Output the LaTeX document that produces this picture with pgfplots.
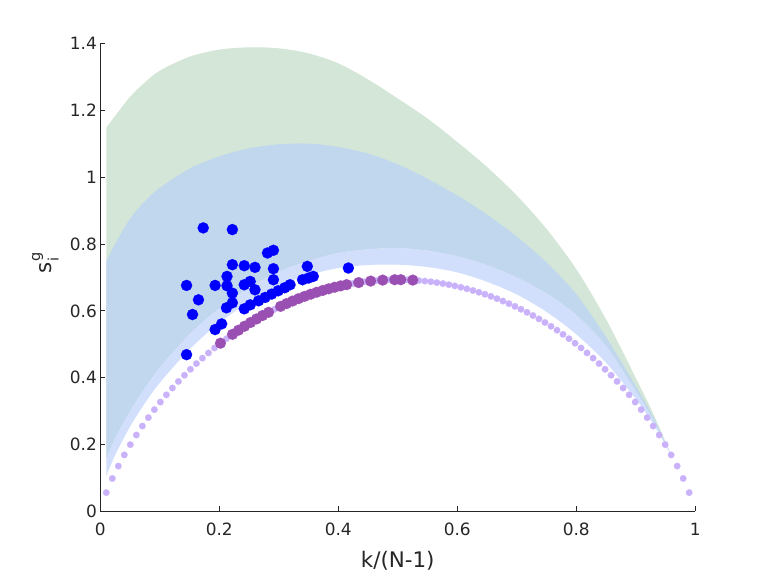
\documentclass[border=0pt]{standalone}
\usepackage{fontspec}
\setmainfont{DejaVu Sans}
\usepackage{pgfplots}
\pgfplotsset{compat=1.18}
\usepgfplotslibrary{fillbetween}
\definecolor{axc}{RGB}{38,38,38}
\definecolor{grn}{RGB}{211,230,215}
\definecolor{stl}{RGB}{193,215,238}
\definecolor{lbl}{RGB}{209,223,252}
\definecolor{lpur}{RGB}{201,178,250}
\definecolor{dpur}{RGB}{154,80,178}
\definecolor{bdot}{RGB}{0,0,255}

\begin{document}
\begin{tikzpicture}
\begin{axis}[
  at={(100.3bp,64.5bp)}, anchor=south west,
  scale only axis, width=594.9bp, height=468.2bp,
  xmin=0, xmax=1, ymin=0, ymax=1.4,
  axis x line*=bottom, axis y line*=left,
  axis line style={draw=axc, line width=0.75bp},
  tick align=inside, major tick length=5bp,
  tick style={draw=axc, line width=0.75bp},
  xtick={0,0.2,0.4,0.6,0.8,1},
  ytick={0,0.2,0.4,0.6,0.8,1,1.2,1.4},
  xticklabels={0,0.2,0.4,0.6,0.8,1},
  yticklabels={0,0.2,0.4,0.6,0.8,1,1.2,1.4},
  /pgf/number format/assume math mode=true,
  xticklabel style={font=\fontsize{17}{18}\selectfont, text=axc, yshift=-8bp},
  yticklabel style={font=\fontsize{17}{18}\selectfont, text=axc},
  xlabel={k/(N-1)},
  xlabel style={font=\fontsize{21.5}{23}\selectfont, text=axc, at={(axis description cs:0.5,0)}, anchor=center, yshift=-49.5bp},
  ylabel={s\makebox[0pt][l]{\raisebox{-0.32em}{\fontsize{14.5}{15}\selectfont i}}\raisebox{0.55em}{\fontsize{14.5}{15}\selectfont g}},
  ylabel style={font=\fontsize{21.5}{23}\selectfont, text=axc, at={(axis description cs:0,0.531)}, anchor=center, yshift=55bp},
]
% green band upper
\addplot[draw=none, name path=GT, smooth, forget plot] coordinates {
(0.0101,1.148) (0.025,1.183) (0.05,1.240) (0.075,1.283) (0.1,1.318) (0.15,1.360)
(0.2,1.381) (0.25,1.388) (0.3,1.385) (0.35,1.370) (0.4,1.340) (0.45,1.292)
(0.5,1.235) (0.55,1.175) (0.6,1.105) (0.65,1.030) (0.7,0.945) (0.75,0.845)
(0.8,0.725) (0.85,0.575) (0.9,0.400) (0.93,0.290) (0.9596,0.169)};
% blue band upper
\addplot[draw=none, name path=BT, smooth, forget plot] coordinates {
(0.0101,0.748) (0.025,0.800) (0.05,0.875) (0.075,0.928) (0.1,0.968) (0.15,1.025)
(0.2,1.062) (0.25,1.086) (0.3,1.098) (0.35,1.100) (0.4,1.090) (0.45,1.070)
(0.5,1.038) (0.55,0.995) (0.6,0.945) (0.65,0.888) (0.7,0.822) (0.75,0.745)
(0.8,0.650) (0.85,0.522) (0.9,0.375) (0.93,0.280) (0.9596,0.169)};
% light band upper (= green band lower)
\addplot[draw=none, name path=LU, smooth, forget plot] coordinates {
(0.0101,0.159) (0.025,0.219) (0.05,0.300) (0.075,0.369) (0.1,0.430) (0.15,0.530)
(0.2,0.608) (0.25,0.670) (0.3,0.717) (0.35,0.749) (0.4,0.773) (0.45,0.784)
(0.5,0.788) (0.55,0.780) (0.6,0.763) (0.65,0.737) (0.7,0.700) (0.75,0.652)
(0.8,0.588) (0.85,0.495) (0.9,0.360) (0.93,0.272) (0.9596,0.169)};
% light band lower
\addplot[draw=none, name path=LL, smooth, forget plot] coordinates {
(0.0101,0.106) (0.025,0.169) (0.05,0.254) (0.075,0.324) (0.1,0.385) (0.15,0.485)
(0.2,0.564) (0.25,0.627) (0.3,0.675) (0.35,0.707) (0.4,0.728) (0.45,0.737)
(0.5,0.738) (0.55,0.731) (0.6,0.715) (0.65,0.687) (0.7,0.649) (0.75,0.597)
(0.8,0.530) (0.85,0.445) (0.9,0.337) (0.93,0.260) (0.9596,0.169)};

\addplot[grn, draw=none, forget plot] fill between[of=GT and LU];
\addplot[stl, draw=none, forget plot] fill between[of=BT and LU];
\addplot[lbl, draw=none, forget plot] fill between[of=LU and LL];

% light purple dots
\addplot[lpur, only marks, mark=*, mark size=3.3bp, mark options={fill=lpur, draw=lpur, line width=0.1pt}] coordinates {
(0.0101,0.0565) (0.0202,0.0988) (0.0303,0.1358) (0.0404,0.1692) (0.0505,0.2000)
(0.0606,0.2286) (0.0707,0.2555) (0.0808,0.2807) (0.0909,0.3046) (0.1010,0.3273)
(0.1111,0.3488) (0.1212,0.3693) (0.1313,0.3889) (0.1414,0.4075) (0.1515,0.4253)
(0.1616,0.4423) (0.1717,0.4586) (0.1818,0.4741) (0.1919,0.4890) (0.2020,0.5032)
(0.2121,0.5168) (0.2222,0.5297) (0.2323,0.5421) (0.2424,0.5539) (0.2525,0.5651)
(0.2626,0.5758) (0.2727,0.5860) (0.2828,0.5956) (0.2929,0.6048) (0.3030,0.6134)
(0.3131,0.6216) (0.3232,0.6293) (0.3333,0.6365) (0.3434,0.6433) (0.3535,0.6496)
(0.3636,0.6555) (0.3737,0.6609) (0.3838,0.6659) (0.3939,0.6705) (0.4040,0.6746)
(0.4141,0.6783) (0.4242,0.6816) (0.4343,0.6845) (0.4444,0.6870) (0.4545,0.6890)
(0.4646,0.6906) (0.4747,0.6919) (0.4848,0.6927) (0.4949,0.6931) (0.5051,0.6931)
(0.5152,0.6927) (0.5253,0.6919) (0.5354,0.6906) (0.5455,0.6890) (0.5556,0.6870)
(0.5657,0.6845) (0.5758,0.6816) (0.5859,0.6783) (0.5960,0.6746) (0.6061,0.6705)
(0.6162,0.6659) (0.6263,0.6609) (0.6364,0.6555) (0.6465,0.6496) (0.6566,0.6433)
(0.6667,0.6365) (0.6768,0.6293) (0.6869,0.6216) (0.6970,0.6134) (0.7071,0.6048)
(0.7172,0.5956) (0.7273,0.5860) (0.7374,0.5758) (0.7475,0.5651) (0.7576,0.5539)
(0.7677,0.5421) (0.7778,0.5297) (0.7879,0.5168) (0.7980,0.5032) (0.8081,0.4890)
(0.8182,0.4741) (0.8283,0.4586) (0.8384,0.4423) (0.8485,0.4253) (0.8586,0.4075)
(0.8687,0.3889) (0.8788,0.3693) (0.8889,0.3488) (0.8990,0.3273) (0.9091,0.3046)
(0.9192,0.2807) (0.9293,0.2555) (0.9394,0.2286) (0.9495,0.2000) (0.9596,0.1692)
(0.9697,0.1358) (0.9798,0.0988) (0.9899,0.0565)};

% dark purple dots
\addplot[dpur, only marks, mark=*, mark size=5.5bp, mark options={fill=dpur, draw=dpur, line width=0.1pt}] coordinates {
(0.2020,0.5032) (0.2222,0.5297) (0.2323,0.5421) (0.2424,0.5539) (0.2525,0.5651)
(0.2626,0.5758) (0.2727,0.5860) (0.2828,0.5956) (0.3030,0.6134)
(0.3131,0.6216) (0.3232,0.6293) (0.3333,0.6365) (0.3434,0.6433) (0.3535,0.6496)
(0.3636,0.6555) (0.3737,0.6609) (0.3838,0.6659) (0.3939,0.6705) (0.4040,0.6746)
(0.4141,0.6783) (0.4343,0.6845) (0.4545,0.6890) (0.4747,0.6919) (0.4949,0.6931)
(0.5051,0.6931) (0.5253,0.6919)};

% blue dots
\addplot[bdot, only marks, mark=*, mark size=5.6bp, mark options={fill=bdot, draw=bdot, line width=0.1pt}] coordinates {
(0.173,0.848) (0.222,0.843) (0.281,0.773) (0.291,0.781) (0.222,0.738)
(0.242,0.735) (0.260,0.730) (0.291,0.726) (0.213,0.703) (0.145,0.676)
(0.193,0.676) (0.213,0.675) (0.252,0.688) (0.242,0.678) (0.291,0.693)
(0.222,0.653) (0.260,0.663) (0.165,0.633) (0.222,0.624) (0.212,0.609)
(0.252,0.618) (0.242,0.606) (0.155,0.589) (0.204,0.561) (0.193,0.544)
(0.145,0.469) (0.266,0.630) (0.277,0.640) (0.288,0.650) (0.299,0.660)
(0.310,0.669) (0.319,0.678) (0.348,0.733) (0.417,0.728) (0.340,0.693)
(0.350,0.698) (0.358,0.703)};
\end{axis}
\path (0,0) rectangle (768bp,576bp);
\end{tikzpicture}
\end{document}
